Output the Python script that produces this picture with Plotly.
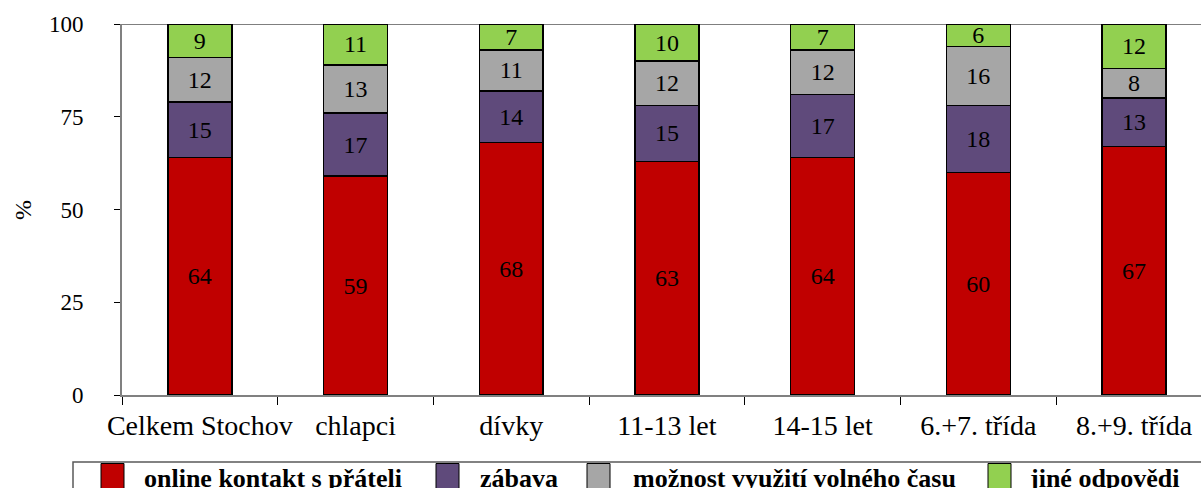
import plotly.graph_objects as go

# Categories and stacked shares (%)
categories = ["Celkem Stochov", "chlapci", "dívky", "11-13 let", "14-15 let", "6.+7. třída", "8.+9. třída"]
series_names = ["online kontakt s přáteli", "zábava", "možnost využití volného času", "jiné odpovědi"]
online = [64, 59, 68, 63, 64, 60, 67]
zabava = [15, 17, 14, 15, 17, 18, 13]
volny_cas = [12, 13, 11, 12, 12, 16, 8]
jine = [9, 11, 7, 10, 7, 6, 12]
y_ticks = [0, 25, 50, 75, 100]

series_values = [online, zabava, volny_cas, jine]
colors = ["#C00000", "#5F4A7B", "#A6A6A6", "#92D050"]

FONT = "'Liberation Serif', 'Times New Roman', serif"
W, H = 1201, 488
ML, MR, MT, MB = 122, 0, 24, 93
plot_w = W - ML - MR
plot_h = H - MT - MB
cat_px = 155.7  # pixel width of one category slot

fig = go.Figure()
for name, vals, col in zip(series_names, series_values, colors):
    fig.add_trace(go.Bar(
        x=categories, y=vals, name=name,
        marker=dict(color=col, line=dict(color="#000000", width=1.5)),
        text=[str(v) for v in vals],
        textposition="inside", insidetextanchor="middle",
        constraintext="none", textangle=0,
        insidetextfont=dict(family=FONT, size=24, color="#000000"),
        showlegend=False,
    ))

x_max = -0.5 + plot_w / cat_px

fig.update_layout(
    width=W, height=H,
    barmode="stack", bargap=0.59,
    margin=dict(l=ML, r=MR, t=MT, b=MB, pad=0, autoexpand=False),
    paper_bgcolor="white", plot_bgcolor="white",
    font=dict(family=FONT, color="#000000"),
    showlegend=False,
    xaxis=dict(
        type="category", range=[-0.5, x_max],
        showline=True, linecolor="#808080", linewidth=2,
        ticks="outside", tickson="boundaries", ticklen=8,
        tickcolor="#000000", tickwidth=1,
        tickfont=dict(family=FONT, size=28, color="#000000"),
        tickangle=0, automargin=False,
        ticklabelstandoff=4,
        showgrid=False, zeroline=False,
    ),
    yaxis=dict(
        range=[0, 100], tickvals=y_ticks,
        showline=True, linecolor="#808080", linewidth=2,
        ticks="outside", ticklen=6, tickcolor="#000000", tickwidth=1,
        tickfont=dict(family=FONT, size=23, color="#000000"),
        ticklabelstandoff=26, automargin=False,
        showgrid=False, zeroline=False,
    ),
)

# Top border line of the plot area at 100 %
fig.add_shape(type="line", xref="paper", yref="y", x0=0, x1=1, y0=100, y1=100,
              line=dict(color="#000000", width=1))


def px_x(p):
    return (p - ML) / plot_w


def px_y(p):
    return (H - MB - p) / plot_h


# Y-axis title
fig.add_annotation(text="%", xref="paper", yref="paper", x=px_x(23), y=px_y(210),
                   xanchor="center", yanchor="middle",
                   textangle=-90, showarrow=False,
                   font=dict(family=FONT, size=24, color="#000000"))

# Legend box with coloured keys
fig.add_shape(type="rect", xref="paper", yref="paper",
              x0=px_x(73), x1=px_x(1215), y0=px_y(462), y1=px_y(505),
              line=dict(color="#595959", width=1.5), fillcolor="white", layer="above")
key_x = [101, 436, 587, 988]
label_x = [142, 478, 631, 1027]
for name, col, kx, lx in zip(series_names, colors, key_x, label_x):
    fig.add_shape(type="rect", xref="paper", yref="paper",
                  x0=px_x(kx), x1=px_x(kx + 23), y0=px_y(463.5), y1=px_y(500),
                  line=dict(color="#000000", width=1), fillcolor=col, layer="above")
    fig.add_annotation(text=f"<b>{name}</b>", xref="paper", yref="paper",
                       x=px_x(lx), y=px_y(478), xanchor="left", yanchor="middle",
                       showarrow=False,
                       font=dict(family=FONT, size=26, color="#000000"))

fig.write_html("out.html")
